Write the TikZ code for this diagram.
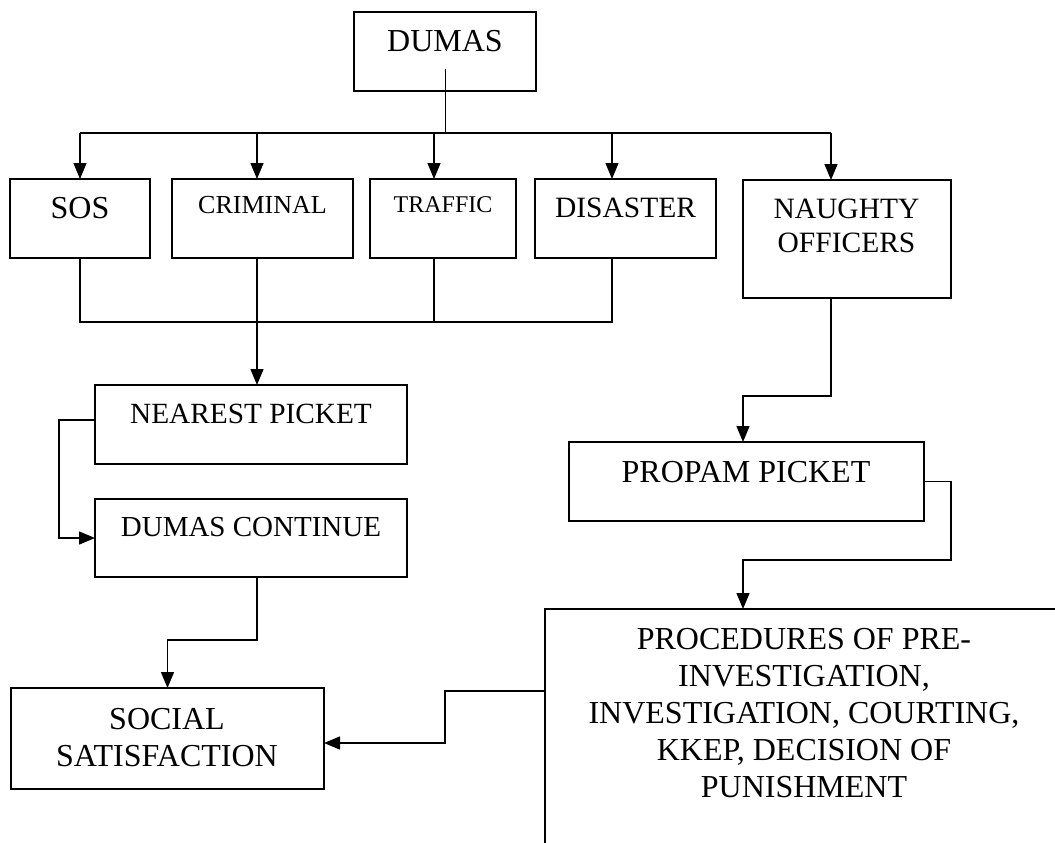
\documentclass[tikz,border=0pt]{standalone}
\usepackage{fontspec}
\setmainfont{Liberation Serif}
\usetikzlibrary{arrows.meta}
\newcommand\fsz[2]{\fontsize{#1pt}{#2pt}\selectfont}
\tikzset{
  box/.style={draw, line width=1.6pt, inner sep=0pt, outer sep=0pt},
  txt/.style={anchor=base, inner sep=0pt, align=center},
  ln/.style={line width=1.4pt},
  arr/.style={ln, -{Triangle[length=16pt,width=13pt]}}
}
\begin{document}
\begin{tikzpicture}[x=1pt,y=-1pt]
\useasboundingbox (0,0) rectangle (1055,843);
\clip (0,0) rectangle (1055,843);
% boxes
\node[box,minimum width=182pt,minimum height=79pt] (dumas) at (445,51.5) {};
\node[box,minimum width=140pt,minimum height=79pt] (sos) at (80,218.5) {};
\node[box,minimum width=181pt,minimum height=79pt] (crim) at (262.5,218.5) {};
\node[box,minimum width=146pt,minimum height=79pt] (traf) at (443,218.5) {};
\node[box,minimum width=181pt,minimum height=79pt] (dis) at (625.5,218.5) {};
\node[box,minimum width=208pt,minimum height=118pt] (naughty) at (847,239) {};
\node[box,minimum width=312pt,minimum height=79pt] (near) at (251,424.5) {};
\node[box,minimum width=312pt,minimum height=78pt] (cont) at (251,538) {};
\node[box,minimum width=355pt,minimum height=79pt] (prop) at (746.5,481.5) {};
\node[box,minimum width=520pt,minimum height=400pt] (proc) at (805,809) {};
\node[box,minimum width=313pt,minimum height=101pt] (soc) at (167.5,738.5) {};
% texts (base anchor = baseline of last line)
\node[txt,font=\fsz{32}{37}] (tdumas) at (445,52) {DUMAS};
\node[txt,font=\fsz{32}{37}] (tsos) at (80,218) {SOS};
\node[txt,font=\fsz{26}{30}] (tcrim) at (262.5,213) {CRIMINAL};
\node[txt,font=\fsz{24}{28}] (ttraf) at (443,212) {TRAFFIC};
\node[txt,font=\fsz{29.5}{34}] (tdis) at (625.5,217) {DISASTER};
\node[txt,font=\fsz{29.5}{34}] (tnaughty) at (846.5,252) {NAUGHTY\\OFFICERS};
\node[txt,font=\fsz{29.3}{34}] (tnear) at (251,423) {NEAREST PICKET};
\node[txt,font=\fsz{29}{34}] (tcont) at (251,536) {DUMAS CONTINUE};
\node[txt,font=\fsz{32}{37}] (tprop) at (746,482) {PROPAM PICKET};
\node[txt,font=\fsz{32}{37}] (tproc) at (804,797) {PROCEDURES OF PRE-\\INVESTIGATION,\\INVESTIGATION, COURTING,\\KKEP, DECISION OF\\PUNISHMENT};
\node[txt,font=\fsz{32}{37}] (tsoc) at (167,766) {SOCIAL\\SATISFACTION};
% helper coordinates
\coordinate (busA) at (0,133);
\coordinate (busB) at (0,322);
\coordinate (cC) at (257,0);
\coordinate (cT) at (434,0);
\coordinate (cD) at (612,0);
\coordinate (cN) at (831,0);
\coordinate (cL) at (59,0);
\coordinate (cP) at (743,0);
\coordinate (cR) at (951,0);
\coordinate (cM) at (445,0);
\coordinate (rowP) at (0,396);
\coordinate (rowQ) at (0,560);
\coordinate (rowS) at (0,743);
\coordinate (rowT) at (0,640);
% connectors
\draw[line width=1pt] ([yshift=22pt]dumas.south) -- (dumas.south |- busA);
\draw[ln] (sos.north |- busA) -- (cN |- busA);
\draw[arr] (sos.north |- busA) -- (sos.north);
\draw[arr] (cC |- busA) -- (cC |- crim.north);
\draw[arr] (cT |- busA) -- (cT |- traf.north);
\draw[arr] (cD |- busA) -- (cD |- dis.north);
\draw[arr] (cN |- busA) -- (cN |- naughty.north);
\draw[ln] (sos.south) -- (sos.south |- busB) -- (cD |- busB) -- (cD |- dis.south);
\draw[ln] (cC |- crim.south) -- (cC |- busB);
\draw[ln] (cT |- traf.south) -- (cT |- busB);
\draw[arr] (cC |- busB) -- (cC |- near.north);
\draw[arr] ([yshift=4.5pt]near.west) -| (cL |- cont.west) -- (cont.west);
\draw[arr] (cN |- naughty.south) -- (cN |- rowP) -| (cP |- prop.north);
\draw[arr] (prop.east) -| (cR |- rowQ) -| (cP |- proc.north);
\draw[arr] ([yshift=-82pt]proc.north west) -| (cM |- rowS) -- (soc.east |- rowS);
\draw[arr] (cC |- cont.south) -- (cC |- rowT) -| (soc.north);
\end{tikzpicture}
\end{document}
